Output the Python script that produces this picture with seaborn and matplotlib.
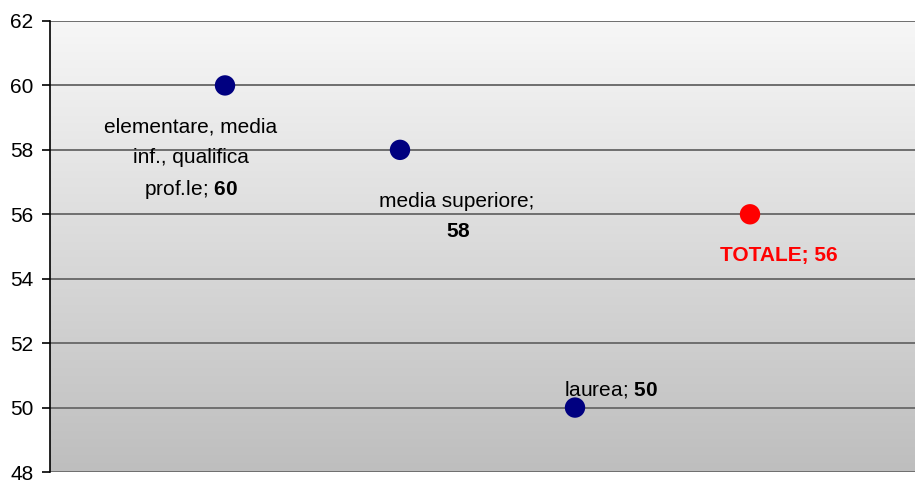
import numpy as np
import pandas as pd
import matplotlib
matplotlib.use("Agg")
import matplotlib.pyplot as plt
import seaborn as sns

# Data
categories = ["elementare, media inf., qualifica prof.le", "media superiore", "laurea", "TOTALE"]
values = [60, 58, 50, 56]
point_colors = ["#000080", "#000080", "#000080", "#ff0000"]
yticks = [48, 50, 52, 54, 56, 58, 60, 62]

sns.set_theme(style="white")
plt.rcParams["font.family"] = ["Liberation Sans", "DejaVu Sans"]
plt.rcParams["mathtext.fontset"] = "custom"
plt.rcParams["mathtext.rm"] = "Liberation Sans"
plt.rcParams["mathtext.bf"] = "Liberation Sans:bold"

df = pd.DataFrame({"pos": np.arange(1, len(values) + 1), "value": values, "cat": categories})

fig = plt.figure(figsize=(9.15, 4.8), dpi=100)
ax = fig.add_axes([50 / 915, 1 - 472 / 480, 1 - 50 / 915, (472 - 21) / 480])

ax.set_xlim(0, 865 / 175)
ax.set_ylim(48, 62)

# vertical gradient background of the plot area
grad = np.linspace(0, 1, 256).reshape(-1, 1)
top = np.array([0.968, 0.968, 0.968])
bot = np.array([0.745, 0.745, 0.745])
img = top + (bot - top) * grad[:, :, None]
ax.imshow(img, extent=[0, 865 / 175, 48, 62], aspect="auto", origin="upper", zorder=0)

# horizontal gridlines
for yv in yticks:
    ax.axhline(yv, color="#6e6e6e", lw=1.4, zorder=1)

sns.scatterplot(data=df, x="pos", y="value", hue="cat", palette=point_colors,
                s=215, edgecolor="none", legend=False, ax=ax, zorder=3)

fs = 15
# data labels, one text per line: (line, x offset px, y offset px)
label_lines = [
    [("elementare, media", -34, -40), ("inf., qualifica", -34, -70),
     ("prof.le; $\\mathbf{%d}$" % values[0], -34, -101)],
    [("media superiore;", 57, -50), ("$\\mathbf{%d}$" % values[1], 58, -80)],
    [("laurea; $\\mathbf{%d}$" % values[2], 36, 20)],
    [("TOTALE; %d" % values[3], 29, -39)],
]
for i, lines in enumerate(label_lines):
    kw = dict(color="black")
    if categories[i] == "TOTALE":
        kw = dict(color="#ff0000", fontweight="bold")
    for txt, dx, dy in lines:
        ax.annotate(txt, (df["pos"][i], values[i]), xytext=(dx, dy), textcoords="offset pixels",
                    ha="center", va="center_baseline", fontsize=fs, zorder=4, **kw)

ax.set_yticks(yticks)
ax.set_yticklabels([str(v) for v in yticks], fontsize=fs, color="black")
ax.set_xticks([])
ax.set_xlabel("")
ax.set_ylabel("")
ax.tick_params(axis="y", left=True, length=6, width=1.2, color="black", pad=6)

for s in ["top", "right", "bottom"]:
    ax.spines[s].set_visible(False)
ax.spines["left"].set_color("black")
ax.spines["left"].set_linewidth(1.2)
ax.spines["left"].set_zorder(5)

fig.savefig("out.png", dpi=100)
